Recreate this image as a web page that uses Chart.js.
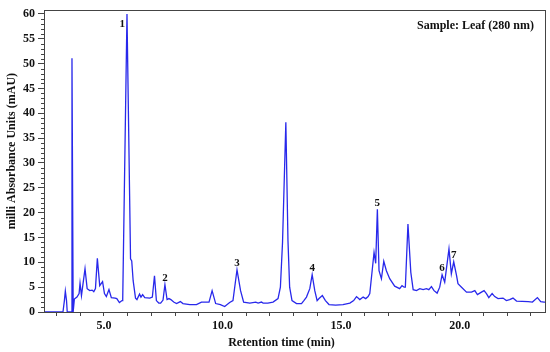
<!DOCTYPE html>
<html>
<head>
<meta charset="utf-8">
<script src="https://cdn.jsdelivr.net/npm/chart.js@4.4.1/dist/chart.umd.min.js"></script>
<style>
    html, body { margin: 0; padding: 0; background: #fff; }
    #wrap { width: 550px; height: 352px; }
</style>
</head>
<body>
<div id="wrap"><canvas id="chart"></canvas></div>
<script>
// Retention time (min) and absorbance (mAU)
const times = [
    2.47, 3.27, 3.33, 3.37, 3.42, 3.45, 3.61, 3.65, 3.70, 3.75,
    3.86, 3.95, 3.99, 4.05, 4.20, 4.29, 4.40, 4.50, 4.57, 4.64,
    4.72, 4.82, 4.94, 5.02, 5.10, 5.21, 5.31, 5.47, 5.54, 5.65,
    5.76, 5.79, 5.97, 6.12, 6.17, 6.23, 6.33, 6.39, 6.50, 6.56,
    6.63, 6.72, 6.93, 7.04, 7.13, 7.21, 7.31, 7.39, 7.49, 7.57,
    7.66, 7.74, 7.82, 7.94, 8.06, 8.22, 8.33, 8.62, 8.90, 9.11,
    9.43, 9.56, 9.71, 9.91, 10.09, 10.30, 10.44, 10.61, 10.76, 10.89,
    11.15, 11.40, 11.50, 11.64, 11.71, 11.91, 12.13, 12.34, 12.44, 12.53,
    12.67, 12.76, 12.83, 12.93, 13.12, 13.33, 13.43, 13.54, 13.68, 13.78,
    13.89, 13.99, 14.07, 14.21, 14.34, 14.49, 14.77, 15.08, 15.37, 15.53,
    15.65, 15.79, 15.93, 16.04, 16.14, 16.21, 16.31, 16.39, 16.46, 16.53,
    16.60, 16.70, 16.80, 16.91, 17.05, 17.26, 17.47, 17.57, 17.66, 17.71,
    17.82, 17.94, 18.04, 18.18, 18.32, 18.46, 18.60, 18.70, 18.81, 18.92,
    19.05, 19.16, 19.26, 19.37, 19.55, 19.65, 19.75, 19.87, 19.93, 20.08,
    20.29, 20.50, 20.64, 20.75, 20.92, 21.03, 21.13, 21.23, 21.37, 21.48,
    21.62, 21.83, 21.97, 22.11, 22.25, 22.40, 22.89, 23.07, 23.28, 23.42,
    23.56, 23.60
];
const absorbance = [
    0, 0, 2.3, 4.2, 2.3, 0, 0, 51.1, 0, 2.6,
    3.0, 3.7, 5.8, 3.3, 8.7, 4.7, 4.3, 4.4, 4.1, 4.7,
    10.8, 5.3, 6.1, 3.7, 3.1, 4.5, 2.9, 2.8, 2.7, 1.9,
    2.3, 2.5, 60.0, 10.7, 10.3, 6.3, 2.8, 2.5, 3.6, 3.0,
    3.5, 2.9, 2.8, 3.0, 7.3, 2.3, 1.8, 1.8, 2.4, 5.5,
    2.5, 2.7, 2.5, 2.0, 1.7, 2.1, 1.7, 1.5, 1.5, 2.0,
    2.0, 4.3, 1.7, 1.5, 1.1, 1.9, 2.3, 8.5, 4.3, 2.0,
    1.8, 2.0, 1.8, 2.0, 1.8, 1.8, 2.0, 2.7, 5.0, 14.0,
    38.2, 14.3, 5.0, 2.3, 1.7, 1.7, 2.3, 3.0, 4.7, 7.5,
    4.3, 2.3, 2.7, 3.3, 2.3, 1.5, 1.4, 1.5, 1.8, 2.3,
    3.1, 2.5, 3.0, 2.7, 3.1, 3.7, 8.3, 12.0, 9.8, 20.7,
    8.3, 6.7, 10.2, 8.3, 6.7, 5.2, 4.7, 5.3, 5.0, 5.0,
    17.7, 8.0, 4.5, 4.3, 4.7, 4.5, 4.7, 4.5, 5.1, 4.3,
    3.8, 5.0, 7.5, 6.0, 12.7, 7.7, 10.1, 7.3, 5.7, 5.0,
    4.0, 4.0, 4.3, 3.5, 4.0, 4.3, 3.7, 2.9, 3.7, 3.1,
    2.7, 2.8, 2.3, 2.5, 2.8, 2.2, 2.1, 2.0, 2.9, 2.1,
    2.0, 2.0
];

// Numbered peaks
const peakNames = ['1', '2', '3', '4', '5', '6', '7'];
const peakTimes = [5.97, 7.57, 10.61, 13.78, 16.53, 19.26, 19.75];

const sampleLabel = 'Sample: Leaf (280 nm)';
const xTitle = 'Retention time (min)';
const yTitle = 'milli Absorbance Units (mAU)';

const FONT = "'Liberation Serif', 'DejaVu Serif', serif";
const AXIS_COLOR = '#444';

// frame, minor ticks, axis titles, peak numbers and sample label
const extras = {
    id: 'extras',
    afterDraw(chart) {
        const ctx = chart.ctx;
        const a = chart.chartArea;
        const xs = chart.scales.x;
        const ys = chart.scales.y;
        ctx.save();

        ctx.strokeStyle = AXIS_COLOR;
        ctx.lineWidth = 1;
        ctx.strokeRect(Math.round(a.left) + 0.5, Math.round(a.top) + 0.5,
            Math.round(a.right - a.left), Math.round(a.bottom - a.top));

        // minor y ticks every 1 mAU
        ctx.beginPath();
        for (let v = 1; v <= ys.max; v++) {
            if (v % 5 === 0) continue;
            const py = Math.round(ys.getPixelForValue(v)) + 0.5;
            ctx.moveTo(a.left - 3, py);
            ctx.lineTo(a.left, py);
        }
        ctx.stroke();

        ctx.fillStyle = '#111';

        // axis titles (sit a bit off-centre in the original)
        ctx.font = 'bold 12px ' + FONT;
        ctx.textAlign = 'center';
        ctx.textBaseline = 'middle';
        ctx.fillText(xTitle, (a.left + a.right) / 2 - 13, chart.height - 9);
        ctx.save();
        ctx.translate(12, (a.top + a.bottom) / 2 - 10);
        ctx.rotate(-Math.PI / 2);
        ctx.fillText(yTitle, 0, 0);
        ctx.restore();

        ctx.font = 'bold 11px ' + FONT;
        peakNames.forEach((name, i) => {
            const t = peakTimes[i];
            const h = absorbance[times.indexOf(t)];
            const px = xs.getPixelForValue(t);
            const py = ys.getPixelForValue(h);
            if (py - 12 < a.top) {
                // too close to the top, put it beside the peak
                ctx.textAlign = 'right';
                ctx.textBaseline = 'middle';
                ctx.fillText(name, px - 2, a.top + 14);
            } else {
                ctx.textAlign = 'center';
                ctx.textBaseline = 'bottom';
                ctx.fillText(name, px, py - 1);
            }
        });

        ctx.font = 'bold 12px ' + FONT;
        ctx.textAlign = 'right';
        ctx.textBaseline = 'middle';
        ctx.fillText(sampleLabel, a.right - 11, a.top + 16);
        ctx.restore();
    }
};

new Chart(document.getElementById('chart'), {
    type: 'line',
    data: {
        datasets: [{
            data: times.map((t, i) => ({ x: t, y: absorbance[i] })),
            borderColor: 'rgb(40, 40, 235)',
            borderWidth: 1.3,
            pointRadius: 0,
            tension: 0,
            fill: false
        }]
    },
    options: {
        responsive: true,
        maintainAspectRatio: false,
        animation: false,
        layout: { padding: { top: 7, right: 5, left: 0, bottom: 0 } },
        plugins: { legend: { display: false }, tooltip: { enabled: false } },
        scales: {
            x: {
                type: 'linear',
                min: 2.47,
                max: 23.6,
                afterFit: s => { s.height = 40; },
                border: { color: AXIS_COLOR },
                grid: { drawOnChartArea: false, tickLength: 4, color: AXIS_COLOR },
                ticks: {
                    stepSize: 1,
                    includeBounds: false,
                    autoSkip: false,
                    maxRotation: 0,
                    padding: 3,
                    color: '#111',
                    font: { family: FONT, size: 12, weight: 'bold' },
                    callback: v => (v % 5 === 0 ? v.toFixed(1) : '')
                },
                title: { display: false }
            },
            y: {
                min: 0,
                max: 60.75,
                afterFit: s => { s.width = 44; },
                border: { color: AXIS_COLOR },
                grid: { drawOnChartArea: false, tickLength: 6, color: AXIS_COLOR },
                ticks: {
                    stepSize: 5,
                    includeBounds: false,
                    padding: 3,
                    color: '#111',
                    font: { family: FONT, size: 12, weight: 'bold' }
                },
                title: { display: false }
            }
        }
    },
    plugins: [extras]
});
</script>
</body>
</html>
